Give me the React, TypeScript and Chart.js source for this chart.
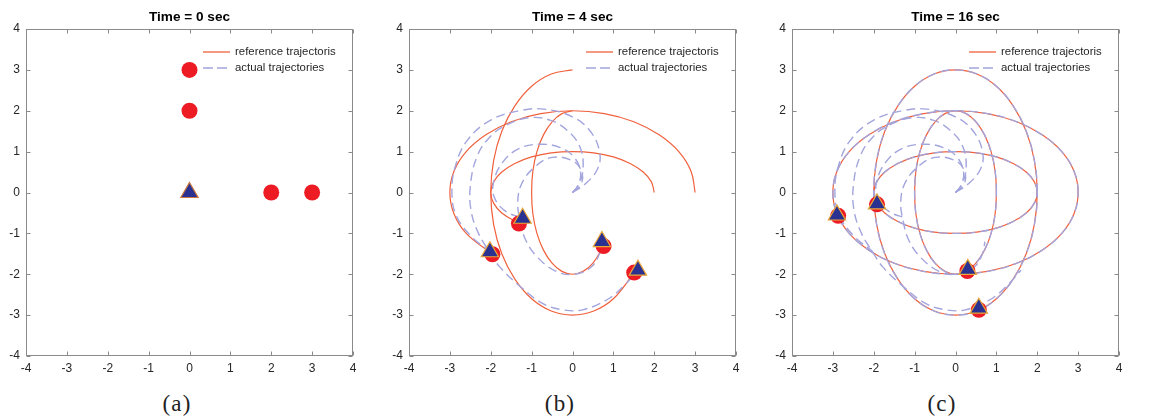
import React, { useEffect, useRef } from "react";
import { Chart, registerables } from "chart.js";

Chart.register(...registerables);

// ---------- data ----------
const tickValues = [-4, -3, -2, -1, 0, 1, 2, 3, 4];
const panelTitles = ["Time = 0 sec", "Time = 4 sec", "Time = 16 sec"];
const panelCaptions = ["(a)", "(b)", "(c)"];
const legendLabels = ["reference trajectoris", "actual trajectories"];

// full reference loops (read at 15° steps around each ellipse)
const loop1 = [[3, 0], [2.9, 0.52], [2.6, 1], [2.12, 1.41], [1.5, 1.73], [0.78, 1.93], [0, 2], [-0.78, 1.93], [-1.5, 1.73], [-2.12, 1.41], [-2.6, 1], [-2.9, 0.52], [-3, 0], [-2.9, -0.52], [-2.6, -1], [-2.12, -1.41], [-1.5, -1.73], [-0.78, -1.93], [0, -2], [0.78, -1.93], [1.5, -1.73], [2.12, -1.41], [2.6, -1], [2.9, -0.52]];
const loop2 = [[2, 0], [1.93, 0.26], [1.73, 0.5], [1.41, 0.71], [1, 0.87], [0.52, 0.97], [0, 1], [-0.52, 0.97], [-1, 0.87], [-1.41, 0.71], [-1.73, 0.5], [-1.93, 0.26], [-2, 0], [-1.93, -0.26], [-1.73, -0.5], [-1.41, -0.71], [-1, -0.87], [-0.52, -0.97], [0, -1], [0.52, -0.97], [1, -0.87], [1.41, -0.71], [1.73, -0.5], [1.93, -0.26]];
const loop3 = [[2, 0], [1.93, 0.78], [1.73, 1.5], [1.41, 2.12], [1, 2.6], [0.52, 2.9], [0, 3], [-0.52, 2.9], [-1, 2.6], [-1.41, 2.12], [-1.73, 1.5], [-1.93, 0.78], [-2, 0], [-1.93, -0.78], [-1.73, -1.5], [-1.41, -2.12], [-1, -2.6], [-0.52, -2.9], [0, -3], [0.52, -2.9], [1, -2.6], [1.41, -2.12], [1.73, -1.5], [1.93, -0.78]];
const loop4 = [[1, 0], [0.97, 0.52], [0.87, 1], [0.71, 1.41], [0.5, 1.73], [0.26, 1.93], [0, 2], [-0.26, 1.93], [-0.5, 1.73], [-0.71, 1.41], [-0.87, 1], [-0.97, 0.52], [-1, 0], [-0.97, -0.52], [-0.87, -1], [-0.71, -1.41], [-0.5, -1.73], [-0.26, -1.93], [0, -2], [0.26, -1.93], [0.5, -1.73], [0.71, -1.41], [0.87, -1], [0.97, -0.52]];

// reference paths from 0 to 4 s
const ref4a = [[3, 0], [2.9, 0.52], [2.6, 1], [2.12, 1.41], [1.5, 1.73], [0.78, 1.93], [0, 2], [-0.78, 1.93], [-1.5, 1.73], [-2.12, 1.41], [-2.6, 1], [-2.9, 0.52], [-3, 0], [-2.9, -0.52], [-2.6, -1], [-1.96, -1.51]];
const ref4b = [[2, 0], [1.93, 0.26], [1.73, 0.5], [1.41, 0.71], [1, 0.87], [0.52, 0.97], [0, 1], [-0.52, 0.97], [-1, 0.87], [-1.41, 0.71], [-1.73, 0.5], [-1.93, 0.26], [-2, 0], [-1.93, -0.26], [-1.73, -0.5], [-1.31, -0.76]];
const ref4c = [[0, 3], [-0.52, 2.9], [-1, 2.6], [-1.41, 2.12], [-1.73, 1.5], [-1.93, 0.78], [-2, 0], [-1.93, -0.78], [-1.73, -1.5], [-1.41, -2.12], [-1, -2.6], [-0.52, -2.9], [0, -3], [0.52, -2.9], [1, -2.6], [1.51, -1.96]];
const ref4d = [[0, 2], [-0.26, 1.93], [-0.5, 1.73], [-0.71, 1.41], [-0.87, 1], [-0.97, 0.52], [-1, 0], [-0.97, -0.52], [-0.87, -1], [-0.71, -1.41], [-0.5, -1.73], [-0.26, -1.93], [0, -2], [0.26, -1.93], [0.5, -1.73], [0.76, -1.31]];

// actual paths from 0 to 4 s
const act4a = [[0, 0], [0.3, 0.2], [0.6, 0.55], [0.67, 0.95], [0.45, 1.48], [0, 1.85], [-0.7, 2.04], [-1.3, 2.0], [-2.0, 1.77], [-2.57, 1.28], [-2.87, 0.63], [-2.95, 0], [-2.85, -0.55], [-2.5, -1.05], [-2.02, -1.45]];
const act4b = [[0, 0], [0.12, 0.15], [0.2, 0.48], [0.05, 0.85], [-0.3, 1.1], [-0.8, 1.18], [-1.3, 1.08], [-1.7, 0.75], [-1.92, 0.3], [-1.92, -0.1], [-1.65, -0.45], [-1.22, -0.63]];
const act4c = [[0, 0], [0.15, 0.18], [0.26, 0.6], [0.18, 1.12], [-0.14, 1.53], [-0.55, 1.77], [-1.05, 1.83], [-1.6, 1.66], [-2.02, 1.36], [-2.34, 0.87], [-2.5, 0.15], [-2.48, -0.45], [-2.3, -1.0], [-2.0, -1.5], [-1.78, -1.82], [-1.28, -2.3], [-0.72, -2.72], [-0.24, -2.87], [0.24, -2.87], [0.83, -2.63], [1.24, -2.3], [1.6, -1.9]];
const act4d = [[0, 0], [0.2, 0.18], [0.24, 0.45], [0.05, 0.75], [-0.5, 0.86], [-0.95, 0.6], [-1.25, 0.2], [-1.34, -0.25], [-1.28, -0.7], [-1.15, -1.15], [-0.87, -1.57], [-0.4, -1.93], [0.05, -2.0], [0.45, -1.83], [0.66, -1.5], [0.72, -1.2]];

// marker positions
const refPos0 = [[0, 3], [0, 2], [2, 0], [3, 0]];
const actPos0 = [[0, 0]];
const refPos4 = [[-1.96, -1.51], [-1.31, -0.76], [1.51, -1.96], [0.76, -1.31]];
const actPos4 = [[-2.02, -1.45], [-1.22, -0.63], [1.6, -1.9], [0.72, -1.2]];
const refPos16 = [[-2.87, -0.57], [-1.92, -0.29], [0.57, -2.87], [0.29, -1.92]];
const actPos16 = [[-2.9, -0.55], [-1.92, -0.28], [0.3, -1.88], [0.57, -2.83]];

// ---------- styles ----------
const REF_COLOR = "#F0603C";
const ACT_COLOR = "#A3A5DD";
const CIRCLE_COLOR = "#ED1C24";
const TRI_FILL = "#2B3190";
const TRI_EDGE = ["#C9783F", "#E8A83A", "#E8A83A"];
const FONT = '"Liberation Sans", Arial, Helvetica, sans-serif';

const toPts = (a: number[][]) => a.map(([x, y]) => ({ x, y }));
const closeLoop = (a: number[][]) => [a[a.length - 1], ...a, a[0], a[1]];

function lineDs(points: number[][], dashed: boolean, closed = false) {
  const data = toPts(closed ? closeLoop(points) : points);
  const last = data.length - 1;
  const color = dashed ? ACT_COLOR : REF_COLOR;
  const ds: any = {
    data,
    showLine: true,
    borderColor: color,
    borderWidth: dashed ? 1.4 : 1.2,
    borderDash: dashed ? [9, 5] : [],
    pointRadius: 0,
    tension: 0.4,
    fill: false,
    order: dashed ? 2 : 3,
  };
  if (closed) {
    ds.segment = {
      borderColor: (ctx: any) =>
        ctx.p0DataIndex === 0 || ctx.p1DataIndex === last ? "rgba(0,0,0,0)" : color,
    };
  }
  return ds;
}

function circleDs(points: number[][]) {
  return {
    data: toPts(points),
    showLine: false,
    pointStyle: "circle",
    pointRadius: 8,
    backgroundColor: CIRCLE_COLOR,
    borderColor: CIRCLE_COLOR,
    borderWidth: 0,
    order: 1,
  };
}

function triDs(points: number[][], edge: string) {
  return {
    data: toPts(points),
    showLine: false,
    pointStyle: "triangle",
    pointRadius: 10,
    backgroundColor: TRI_FILL,
    borderColor: edge,
    borderWidth: 1.2,
    order: 0,
  };
}

function panelDatasets(i: number) {
  if (i === 0) return [triDs(actPos0, TRI_EDGE[0]), circleDs(refPos0)];
  if (i === 1)
    return [
      triDs(actPos4, TRI_EDGE[1]),
      circleDs(refPos4),
      ...[act4a, act4b, act4c, act4d].map((p) => lineDs(p, true)),
      ...[ref4a, ref4b, ref4c, ref4d].map((p) => lineDs(p, false)),
    ];
  return [
    triDs(actPos16, TRI_EDGE[2]),
    circleDs(refPos16),
    ...[act4a, act4b, act4c, act4d].map((p) => lineDs(p, true)),
    ...[loop1, loop2, loop3, loop4].map((p) => lineDs(p, true, true)),
    ...[loop1, loop2, loop3, loop4].map((p) => lineDs(p, false, true)),
  ];
}

const frame = {
  id: "matlabFrame",
  afterDraw(chart: any, _args: any, opts: any) {
    const { ctx, chartArea } = chart;
    const { left, top, right, bottom } = chartArea;
    const xs = chart.scales.x;
    const ys = chart.scales.y;
    ctx.save();
    ctx.strokeStyle = "#8a8a8a";
    ctx.lineWidth = 1;
    ctx.setLineDash([]);
    const L = Math.round(left) + 0.5;
    const R = Math.round(right) - 0.5;
    const T = Math.round(top) + 0.5;
    const B = Math.round(bottom) - 0.5;
    ctx.strokeRect(L, T, R - L, B - T);
    ctx.beginPath();
    for (const v of tickValues) {
      const px = Math.round(xs.getPixelForValue(v)) + 0.5;
      ctx.moveTo(px, B); ctx.lineTo(px, B - 4);
      ctx.moveTo(px, T); ctx.lineTo(px, T + 4);
      const py = Math.round(ys.getPixelForValue(v)) + 0.5;
      ctx.moveTo(L, py); ctx.lineTo(L + 4, py);
      ctx.moveTo(R, py); ctx.lineTo(R - 4, py);
    }
    ctx.stroke();

    // title
    ctx.fillStyle = "#000";
    ctx.font = `bold 13.6px ${FONT}`;
    ctx.textAlign = "center";
    ctx.textBaseline = "middle";
    ctx.fillText(opts.title, (left + right) / 2, 17);

    // legend
    const lx0 = left + 177;
    const lx1 = left + 204;
    const rows = [top + 23, top + 39];
    ctx.lineWidth = 1.3;
    ctx.strokeStyle = REF_COLOR;
    ctx.beginPath();
    ctx.moveTo(lx0, rows[0]); ctx.lineTo(lx1, rows[0]);
    ctx.stroke();
    ctx.strokeStyle = ACT_COLOR;
    ctx.lineWidth = 1.4;
    ctx.setLineDash([10, 4]);
    ctx.beginPath();
    ctx.moveTo(lx0, rows[1]); ctx.lineTo(lx1 + 1, rows[1]);
    ctx.stroke();
    ctx.setLineDash([]);
    ctx.fillStyle = "#262626";
    ctx.font = `11.4px ${FONT}`;
    ctx.textAlign = "left";
    ctx.fillText(legendLabels[0], left + 209, rows[0]);
    ctx.fillText(legendLabels[1], left + 209, rows[1]);
    ctx.restore();
  },
};

const CANVAS_W = 373;
const CANVAS_H = 382;
const canvasLefts = [0, 383, 766];

function axisOpts(isX: boolean) {
  return {
    type: "linear",
    min: -4,
    max: 4,
    grid: { display: false, drawTicks: false },
    border: { display: false },
    ticks: {
      stepSize: 1,
      autoSkip: false,
      maxRotation: 0,
      padding: isX ? 5 : 6,
      color: "#262626",
      font: { family: FONT, size: 12 },
    },
    afterFit: (s: any) => {
      if (isX) s.height = 26;
      else s.width = 26;
    },
  };
}

function Panel({ index }: { index: number }) {
  const ref = useRef<HTMLCanvasElement | null>(null);
  useEffect(() => {
    if (!ref.current) return;
    const chart = new Chart(ref.current, {
      type: "line",
      data: { datasets: panelDatasets(index) as any },
      options: {
        responsive: false,
        animation: false,
        events: [],
        layout: { padding: { left: 0, right: 20, top: 29, bottom: 0 }, autoPadding: false },
        plugins: {
          legend: { display: false },
          tooltip: { enabled: false },
          title: { display: false },
          matlabFrame: { title: panelTitles[index] },
        } as any,
        scales: { x: axisOpts(true) as any, y: axisOpts(false) as any },
      },
      plugins: [frame],
    });
    return () => chart.destroy();
  }, [index]);
  return (
    <canvas
      ref={ref}
      width={CANVAS_W}
      height={CANVAS_H}
      style={{ position: "absolute", left: canvasLefts[index], top: 0, width: CANVAS_W, height: CANVAS_H }}
    />
  );
}

const captionCenters = [177, 560, 942];

export default function App() {
  return (
    <div style={{ position: "fixed", left: 0, top: 0, width: 1161, height: 418, background: "#fff", overflow: "hidden" }}>
      {[0, 1, 2].map((i) => (
        <Panel key={i} index={i} />
      ))}
      {panelCaptions.map((c, i) => (
        <div
          key={c}
          style={{
            position: "absolute",
            left: captionCenters[i] - 40,
            width: 80,
            top: 390,
            height: 28,
            lineHeight: "28px",
            textAlign: "center",
            fontFamily: '"Liberation Serif", "Times New Roman", serif',
            fontSize: 23,
            letterSpacing: 1.2,
            color: "#222",
          }}
        >
          {c}
        </div>
      ))}
    </div>
  );
}
